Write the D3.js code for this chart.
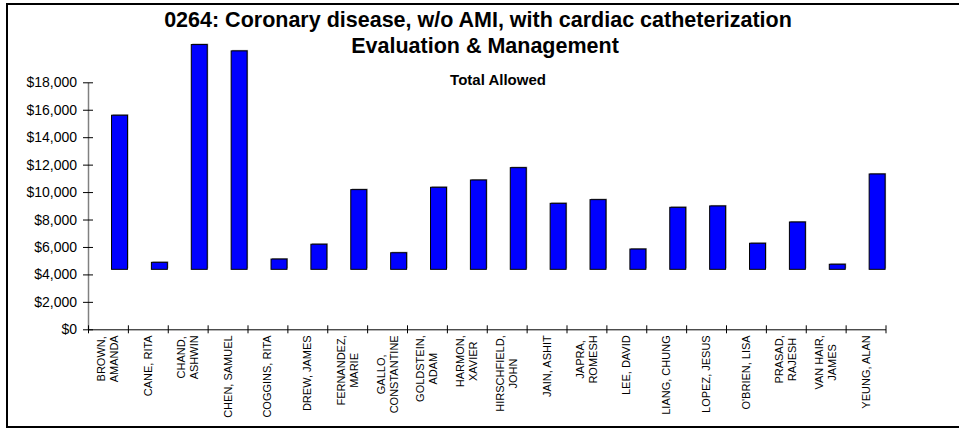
<!DOCTYPE html>
<html>
<head>
<meta charset="utf-8">
<script src="https://cdn.jsdelivr.net/npm/d3@7"></script>
<style>
  body { margin: 0; background: #fff; }
  svg { display: block; font-family: Arial, "Liberation Sans", sans-serif; }
</style>
</head>
<body>
<svg id="chart" width="959" height="429"></svg>
<script>
// physician names, already split the way the chart wraps them
const names = [
  ["BROWN,", "AMANDA"], ["CANE, RITA"], ["CHAND,", "ASHWIN"], ["CHEN, SAMUEL"],
  ["COGGINS, RITA"], ["DREW, JAMES"], ["FERNANDEZ,", "MARIE"], ["GALLO,", "CONSTANTINE"],
  ["GOLDSTEIN,", "ADAM"], ["HARMON,", "XAVIER"], ["HIRSCHFIELD,", "JOHN"], ["JAIN, ASHIT"],
  ["JAPRA,", "ROMESH"], ["LEE, DAVID"], ["LIANG, CHUNG"], ["LOPEZ, JESUS"],
  ["O'BRIEN, LISA"], ["PRASAD,", "RAJESH"], ["VAN HAIR,", "JAMES"], ["YEUNG, ALAN"]
];
// total allowed per physician
const totals = [
  15600, 4880, 20750, 20290, 5120, 6200, 10180, 5580, 10350, 10880,
  11780, 9180, 9450, 5850, 8890, 8990, 6270, 7820, 4740, 11320
];
// bars float from this value, not from zero
const barBase = 4370;
const yTicks = [0, 2000, 4000, 6000, 8000, 10000, 12000, 14000, 16000, 18000];
const titleLines = ["0264: Coronary disease, w/o AMI, with cardiac catheterization", "Evaluation & Management"];
const subTitle = "Total Allowed";

const svg = d3.select("#chart");
const grid = { left: 88, right: 885.5, top: 82.3, bottom: 329.3 };

// outer frame
svg.append("rect")
  .attr("x", 7).attr("y", 4)
  .attr("width", 990).attr("height", 423)
  .attr("fill", "none")
  .attr("stroke", "#000")
  .attr("stroke-width", 2);

// titles
svg.append("text")
  .attr("x", 478).attr("y", 27)
  .attr("text-anchor", "middle")
  .attr("font-size", 21.5).attr("font-weight", "bold")
  .text(titleLines[0]);
svg.append("text")
  .attr("x", 485).attr("y", 53)
  .attr("text-anchor", "middle")
  .attr("font-size", 21.5).attr("font-weight", "bold")
  .text(titleLines[1]);
svg.append("text")
  .attr("x", 498).attr("y", 85)
  .attr("text-anchor", "middle")
  .attr("font-size", 15).attr("font-weight", "bold")
  .text(subTitle);

const y = d3.scaleLinear()
  .domain([0, 18000])
  .range([grid.bottom, grid.top]);

const x = d3.scaleBand()
  .domain(d3.range(names.length))
  .range([grid.left, grid.right])
  .padding(0);

// tick marks sit on the category boundaries
const xEdge = d3.scaleLinear()
  .domain([0, names.length])
  .range([grid.left, grid.right]);

// bars (gray shadow first, then the blue bar)
const bw = x.bandwidth();
const bars = svg.append("g").attr("class", "_bars");
bars.selectAll("rect._shadow")
  .data(totals)
  .enter().append("rect")
  .attr("class", "_shadow")
  .attr("x", (d, i) => x(i) + bw * 0.59 + 1)
  .attr("y", d => y(d) - 1)
  .attr("width", bw * 0.4)
  .attr("height", d => y(barBase) - y(d))
  .attr("fill", "#9a9a9a");
bars.selectAll("rect._bar")
  .data(totals)
  .enter().append("rect")
  .attr("class", "_bar")
  .attr("x", (d, i) => x(i) + bw * 0.59)
  .attr("y", d => y(d))
  .attr("width", bw * 0.4)
  .attr("height", d => y(barBase) - y(d))
  .attr("fill", "#0000ff")
  .attr("stroke", "#000")
  .attr("stroke-width", 1);

// y axis
const leftAxis = d3.axisLeft(y)
  .tickValues(yTicks)
  .tickSizeInner(5)
  .tickSizeOuter(0)
  .tickPadding(6)
  .tickFormat(d => "$" + d3.format(",")(d));
const yg = svg.append("g")
  .attr("class", "_y_axis")
  .attr("transform", `translate(${grid.left},0)`)
  .call(leftAxis);
yg.select(".domain").attr("stroke", "#808080").attr("stroke-width", 1.5);
yg.selectAll(".tick line").attr("x1", 5).attr("stroke", "#000");
yg.selectAll(".tick text")
  .attr("font-size", 14)
  .attr("font-family", "Arial, 'Liberation Sans', sans-serif")
  .attr("fill", "#000");

// x axis
const bottomAxis = d3.axisBottom(xEdge)
  .tickValues(d3.range(names.length + 1))
  .tickSizeInner(4)
  .tickSizeOuter(0)
  .tickFormat("");
const xg = svg.append("g")
  .attr("class", "_x_axis")
  .attr("transform", `translate(0,${grid.bottom})`)
  .call(bottomAxis);
xg.select(".domain").attr("stroke", "#000");
xg.selectAll(".tick line").attr("y1", -4).attr("stroke", "#000");

// rotated category labels, top edge at a fixed line, lines centred on each other
const labelTop = grid.bottom + 6;
const lineGap = 13;
const labels = svg.append("g").attr("class", "_labels")
  .selectAll("g")
  .data(names)
  .enter().append("g")
  .attr("transform", (d, i) => `translate(${x(i) + bw / 2},${labelTop}) rotate(-90)`);

labels.each(function (lines) {
  const g = d3.select(this);
  const texts = lines.map((t, k) => g.append("text")
    .attr("font-size", 11)
    .attr("text-anchor", "middle")
    .attr("y", 4 + (k - (lines.length - 1) / 2) * lineGap)
    .text(t));
  const maxLen = d3.max(texts, t => t.node().getComputedTextLength());
  texts.forEach(t => t.attr("x", -maxLen / 2));
});
</script>
</body>
</html>
